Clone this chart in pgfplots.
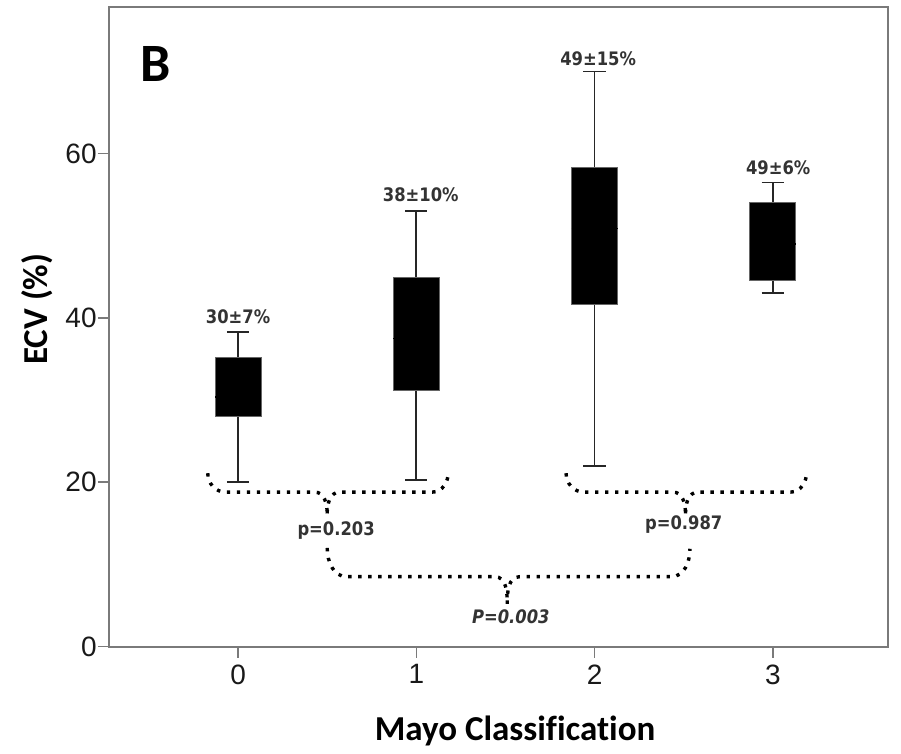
\documentclass[border=0pt]{standalone}
\usepackage{fontspec}
\setmainfont{Liberation Sans}
\newfontfamily\calibri{Carlito}[Ligatures=NoCommon]
\newfontfamily\annfont{DejaVu Sans}[FakeStretch=0.88]
\usepackage{pgfplots}
\pgfplotsset{compat=1.18}
\definecolor{axgrey}{HTML}{7A7A7A}
\definecolor{anntext}{HTML}{333333}

\begin{document}
\begin{tikzpicture}[
  br/.style={line width=1.7pt, dash pattern=on 1.7pt off 3.3pt, black},
  ann/.style={font=\annfont\bfseries\fontsize{9.3}{10}\selectfont, text=anntext, inner sep=0pt},
]
\begin{axis}[
  scale only axis, width=389.5pt, height=319.5pt,
  xmin=-0.724, xmax=3.646, ymin=0, ymax=77.8,
  xtick={0,1,2,3}, ytick={0,20,40,60},
  xtick pos=bottom, ytick pos=left,
  tick align=outside, major tick length=5.5pt,
  tick style={axgrey, line width=0.8pt},
  axis line style={axgrey, line width=1pt},
  /pgf/number format/assume math mode=true,
  tick label style={font=\fontsize{14}{16}\selectfont, text=black!90},
  yticklabel style={inner xsep=0.5pt},
  clip=false,
  whisk/.style={black!85, line width=0.9pt, mark=none},
  bx/.style={fill=black, draw=black!60, line width=0.4pt, mark=none},
]
% box half width 0.129, cap half width 0.0625
% group 0: lw 20.0, q1 28.0, med 30.4, q3 35.2, uw 38.3
\addplot[whisk] coordinates {(0,20.0)(0,38.3)};
\addplot[whisk] coordinates {(-0.0625,20.0)(0.0625,20.0)};
\addplot[whisk] coordinates {(-0.0625,38.3)(0.0625,38.3)};
\addplot[bx] coordinates {(-0.129,28.0)(0.129,28.0)(0.129,35.2)(-0.129,35.2)} -- cycle;
\addplot[whisk, black] coordinates {(-0.129,30.4)(0.129,30.4)};
% group 1: lw 20.3, q1 31.2, med 37.5, q3 44.9, uw 53.0
\addplot[whisk] coordinates {(1,20.3)(1,53.0)};
\addplot[whisk] coordinates {(0.9375,20.3)(1.0625,20.3)};
\addplot[whisk] coordinates {(0.9375,53.0)(1.0625,53.0)};
\addplot[bx] coordinates {(0.871,31.2)(1.129,31.2)(1.129,44.9)(0.871,44.9)} -- cycle;
\addplot[whisk, black] coordinates {(0.871,37.5)(1.129,37.5)};
% group 2: lw 22.0, q1 41.7, med 50.9, q3 58.3, uw 70.0
\addplot[whisk] coordinates {(2,22.0)(2,70.0)};
\addplot[whisk] coordinates {(1.9375,22.0)(2.0625,22.0)};
\addplot[whisk] coordinates {(1.9375,70.0)(2.0625,70.0)};
\addplot[bx] coordinates {(1.871,41.7)(2.129,41.7)(2.129,58.3)(1.871,58.3)} -- cycle;
\addplot[whisk, black] coordinates {(1.871,50.9)(2.129,50.9)};
% group 3: lw 43.0, q1 44.6, med 49.0, q3 54.1, uw 56.5
\addplot[whisk] coordinates {(3,43.0)(3,56.5)};
\addplot[whisk] coordinates {(2.9375,43.0)(3.0625,43.0)};
\addplot[whisk] coordinates {(2.9375,56.5)(3.0625,56.5)};
\addplot[bx] coordinates {(2.871,44.6)(3.129,44.6)(3.129,54.1)(2.871,54.1)} -- cycle;
\addplot[whisk, black] coordinates {(2.871,49.0)(3.129,49.0)};

% braces
\draw[br] (axis cs:-0.17,21.1) to[out=-90,in=180] (axis cs:-0.07,18.8) -- (axis cs:0.43,18.8) to[out=0,in=90] (axis cs:0.5,16.2);
\draw[br] (axis cs:0.5,16.2) to[out=90,in=180] (axis cs:0.57,18.8) -- (axis cs:1.09,18.8) to[out=0,in=-90] (axis cs:1.18,21.3);
\draw[br] (axis cs:1.84,21.1) to[out=-90,in=180] (axis cs:1.94,18.8) -- (axis cs:2.44,18.8) to[out=0,in=90] (axis cs:2.51,16.2);
\draw[br] (axis cs:2.51,16.2) to[out=90,in=180] (axis cs:2.58,18.8) -- (axis cs:3.10,18.8) to[out=0,in=-90] (axis cs:3.19,21.3);
\draw[br] (axis cs:0.50,12.0) to[out=-90,in=180] (axis cs:0.61,8.5) -- (axis cs:1.44,8.5) to[out=0,in=90] (axis cs:1.51,5.2);
\draw[br] (axis cs:1.51,5.2) to[out=90,in=180] (axis cs:1.58,8.5) -- (axis cs:2.43,8.5) to[out=0,in=-90] (axis cs:2.535,11.9);

\node[ann] at (axis cs:0.55,14.1) {p=0.203};
\node[ann] at (axis cs:2.50,14.8) {p=0.987};
\node[ann, font=\annfont\bfseries\itshape\fontsize{9.3}{10}\selectfont] at (axis cs:1.53,3.6) {P=0.003};

\node[ann] at (axis cs:0.00,40.2) {30±7\%};
\node[ann] at (axis cs:1.025,55.0) {38±10\%};
\node[ann] at (axis cs:2.02,71.6) {49±15\%};
\node[ann] at (axis cs:3.03,58.3) {49±6\%};

\node[font=\calibri\bfseries\fontsize{27}{30}\selectfont, inner sep=0pt] at (axis cs:-0.465,70.9) {B};

\node[font=\calibri\bfseries\fontsize{17.5}{19}\selectfont, anchor=base, inner sep=0pt]
  at ([yshift=-46.8pt]axis cs:1.554,0) {Mayo Classification};
\node[font=\calibri\bfseries\fontsize{17.5}{19}\selectfont, anchor=base, rotate=90, inner sep=0pt]
  at ([xshift=-30.5pt]rel axis cs:0,0.528) {ECV (\%)};

\coordinate (SW) at (rel axis cs:0,0);
\coordinate (NE) at (rel axis cs:1,1);
\end{axis}
\pgfresetboundingbox
\path[use as bounding box] ([xshift=-54.5pt,yshift=-53.25pt]SW) rectangle ([xshift=6.5pt,yshift=3.75pt]NE);
\end{tikzpicture}
\end{document}
